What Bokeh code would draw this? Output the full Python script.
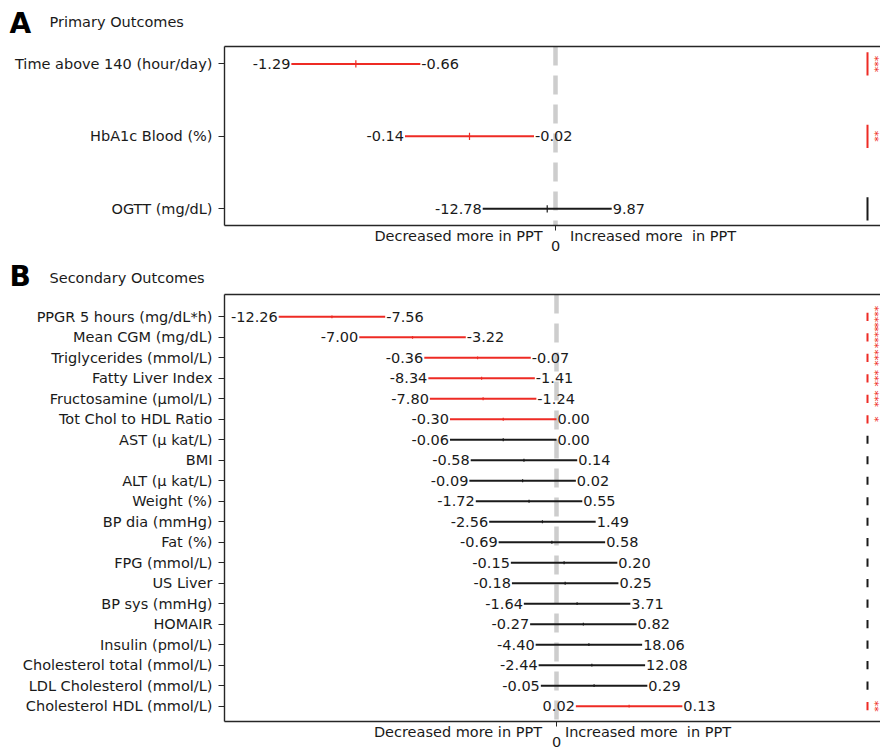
import math
from bokeh.plotting import figure
from bokeh.models import Range1d, FixedTicker, LinearAxis, Span, ColumnDataSource
from bokeh.layouts import column
from bokeh.core.properties import value
from bokeh.embed import file_html
from bokeh.resources import INLINE

# ---------------- data ----------------
a_names = ["Time above 140 (hour/day)", "HbA1c Blood (%)", "OGTT (mg/dL)"]
a_low = [-1.29, -0.14, -12.78]
a_high = [-0.66, -0.02, 9.87]
a_sig = [True, True, False]
a_stars = ["***", "**", ""]

b_names = [
    "PPGR 5 hours (mg/dL*h)", "Mean CGM (mg/dL)", "Triglycerides (mmol/L)",
    "Fatty Liver Index", "Fructosamine (µmol/L)", "Tot Chol to HDL Ratio",
    "AST (µ kat/L)", "BMI", "ALT (µ kat/L)", "Weight (%)", "BP dia (mmHg)",
    "Fat (%)", "FPG (mmol/L)", "US Liver", "BP sys (mmHg)", "HOMAIR",
    "Insulin (pmol/L)", "Cholesterol total (mmol/L)", "LDL Cholesterol (mmol/L)",
    "Cholesterol HDL (mmol/L)",
]
b_low = [-12.26, -7.00, -0.36, -8.34, -7.80, -0.30, -0.06, -0.58, -0.09, -1.72,
         -2.56, -0.69, -0.15, -0.18, -1.64, -0.27, -4.40, -2.44, -0.05, 0.02]
b_high = [-7.56, -3.22, -0.07, -1.41, -1.24, 0.00, 0.00, 0.14, 0.02, 0.55,
          1.49, 0.58, 0.20, 0.25, 3.71, 0.82, 18.06, 12.08, 0.29, 0.13]
b_sig = [True, True, True, True, True, True] + [False] * 13 + [True]
b_stars = ["****", "****", "***", "***", "***", "*"] + [""] * 13 + ["**"]

panel_letters = ["A", "B"]
panel_titles = ["Primary Outcomes", "Secondary Outcomes"]
direction_labels = ["Decreased more in PPT", "Increased more \u00a0in PPT"]

# ---------------- style ----------------
FONT = "DejaVu Sans"
RED = "#ee2b24"
BLACK = "#1a1a1a"
ZERO_GREY = "#cdcdcd"
AXIS_COL = "#262626"
W = 880
LEFT = 224


def fmt(v):
    return "%.2f" % v


def no_align(p):
    try:
        p.frame_align = False
    except Exception:
        pass


def header(h, letter, title, letter_y, title_y):
    p = figure(width=W, height=h, output_backend="svg", toolbar_location=None,
               x_range=Range1d(0, W), y_range=Range1d(h, 0),
               min_border=0, outline_line_color=None)
    no_align(p)
    p.axis.visible = False
    p.grid.visible = False
    p.text(x=[9], y=[letter_y], text=[letter], text_font=value(FONT),
           text_font_size=value("28px"), text_font_style="bold",
           text_color="black", text_baseline="middle", text_align="left")
    p.text(x=[49], y=[title_y], text=[title], text_font=value(FONT),
           text_font_size=value("14.5px"), text_color=BLACK,
           text_baseline="middle", text_align="left")
    return p


def panel(names, low, high, sig, stars, height, b_top, b_bottom, ppu, zero_px,
          y_top, y_bottom, dec_center, inc_center, tick_half, mark_half):
    n = len(names)
    frame_w = W - LEFT
    x0 = -(zero_px - LEFT) / ppu
    x1 = x0 + frame_w / ppu

    def dx(px):
        return x0 + (px - LEFT) / ppu

    p = figure(width=W, height=height, output_backend="svg", toolbar_location=None,
               x_range=Range1d(x0, x1), y_range=Range1d(y_bottom, y_top),
               min_border_left=LEFT, min_border_right=0,
               min_border_top=b_top, min_border_bottom=b_bottom,
               outline_line_color=None, background_fill_color="white",
               border_fill_color="white")
    no_align(p)
    p.xgrid.visible = False
    p.ygrid.visible = False

    # normalised interval positions: every interval spans one unit
    width = [h - l for l, h in zip(low, high)]
    xl = [l / w for l, w in zip(low, width)]
    xh = [h / w for h, w in zip(high, width)]
    xm = [(a + b) / 2 for a, b in zip(xl, xh)]
    ys = list(range(n))
    cols = [RED if s else BLACK for s in sig]

    src = ColumnDataSource(dict(
        xl=xl, xh=xh, xm=xm, y=ys, col=cols,
        lo_txt=[fmt(v) for v in low], hi_txt=[fmt(v) for v in high],
        y0=[y - tick_half for y in ys], y1=[y + tick_half for y in ys],
        m0=[y - mark_half for y in ys], m1=[y + mark_half for y in ys],
        xr=[dx(867)] * n, xs=[dx(874)] * n, stars=stars,
    ))

    p.add_layout(Span(location=0, dimension="height", line_color=ZERO_GREY,
                      line_width=4.5, line_dash="19 10", level="underlay"))

    p.segment(x0="xl", y0="y", x1="xh", y1="y", source=src, line_color="col",
              line_width=2)
    p.segment(x0="xm", y0="y0", x1="xm", y1="y1", source=src, line_color="col",
              line_width=1.2)
    p.text(x="xl", y="y", text="lo_txt", source=src, text_align="right",
           text_baseline="middle", x_offset=-1, text_color=BLACK,
           text_font=value(FONT), text_font_size=value("14.5px"))
    p.text(x="xh", y="y", text="hi_txt", source=src, text_align="left",
           text_baseline="middle", x_offset=1, text_color=BLACK,
           text_font=value(FONT), text_font_size=value("14.5px"))
    # right-hand significance column
    p.segment(x0="xr", y0="m0", x1="xr", y1="m1", source=src, line_color="col",
              line_width=2)
    p.text(x="xs", y="y", text="stars", source=src, angle=-math.pi / 2,
           text_align="center", text_baseline="middle", text_color=RED,
           text_font=value(FONT), text_font_size=value("11px"))

    # y axis with outcome names
    ya = p.yaxis[0]
    ya.ticker = FixedTicker(ticks=ys)
    ya.major_label_overrides = {i: nm for i, nm in zip(ys, names)}
    ya.major_label_text_font = FONT
    ya.major_label_text_font_size = "14.5px"
    ya.major_label_text_color = BLACK
    ya.major_tick_out = 6
    ya.major_tick_in = 0
    ya.major_label_standoff = 6
    ya.minor_tick_line_color = None
    ya.axis_line_color = AXIS_COL
    ya.axis_line_width = 1.4
    ya.major_tick_line_color = AXIS_COL

    # inner bottom axis: direction texts + small tick at 0
    xa = p.xaxis[0]
    xa.ticker = FixedTicker(ticks=[dec_center, inc_center], minor_ticks=[0])
    xa.major_label_overrides = {dec_center: direction_labels[0],
                                inc_center: direction_labels[1]}
    xa.major_label_text_font = FONT
    xa.major_label_text_font_size = "14.5px"
    xa.major_label_text_color = BLACK
    xa.major_tick_out = 0
    xa.major_tick_in = 0
    xa.major_tick_line_color = None
    xa.minor_tick_out = 5
    xa.minor_tick_in = 0
    xa.minor_tick_line_color = AXIS_COL
    xa.major_label_standoff = -3
    xa.axis_line_color = AXIS_COL
    xa.axis_line_width = 1.4

    # outer bottom axis: the "0" tick label
    x0ax = LinearAxis(ticker=FixedTicker(ticks=[0]), axis_line_color=None,
                      major_tick_line_color=None, major_tick_out=0,
                      major_tick_in=0, minor_tick_line_color=None,
                      minor_tick_out=0, major_label_standoff=-6,
                      major_label_text_font=FONT,
                      major_label_text_font_size="14.5px",
                      major_label_text_color=BLACK)
    p.add_layout(x0ax, "below")

    top = LinearAxis(ticker=FixedTicker(ticks=[]), axis_line_color=AXIS_COL,
                     axis_line_width=1.4, major_tick_line_color=None,
                     major_tick_out=0, major_tick_in=0,
                     minor_tick_line_color=None, minor_tick_out=0,
                     major_label_text_font_size="0px")
    p.add_layout(top, "above")
    return p


# page y 0..40 header A, 40..256 panel A (frame 46..225)
ha = header(40, panel_letters[0], panel_titles[0], letter_y=23, title_y=21)
pa = panel(a_names, a_low, a_high, a_sig, a_stars, height=216, b_top=6,
           b_bottom=31, ppu=129, zero_px=555, y_top=-0.24, y_bottom=2.23,
           dec_center=-0.752, inc_center=0.756, tick_half=0.05, mark_half=0.16)
# page y 256..292 header B, 292..751 panel B (frame 294..721)
hb = header(36, panel_letters[1], panel_titles[1], letter_y=19.5, title_y=21)
pb = panel(b_names, b_low, b_high, b_sig, b_stars, height=459, b_top=2,
           b_bottom=30, ppu=106.5, zero_px=556, y_top=-1.09, y_bottom=19.75,
           dec_center=-0.925, inc_center=0.859, tick_half=0.07, mark_half=0.2)

layout = column(ha, pa, hb, pb)
open("out.html", "w").write(file_html(layout, INLINE))
